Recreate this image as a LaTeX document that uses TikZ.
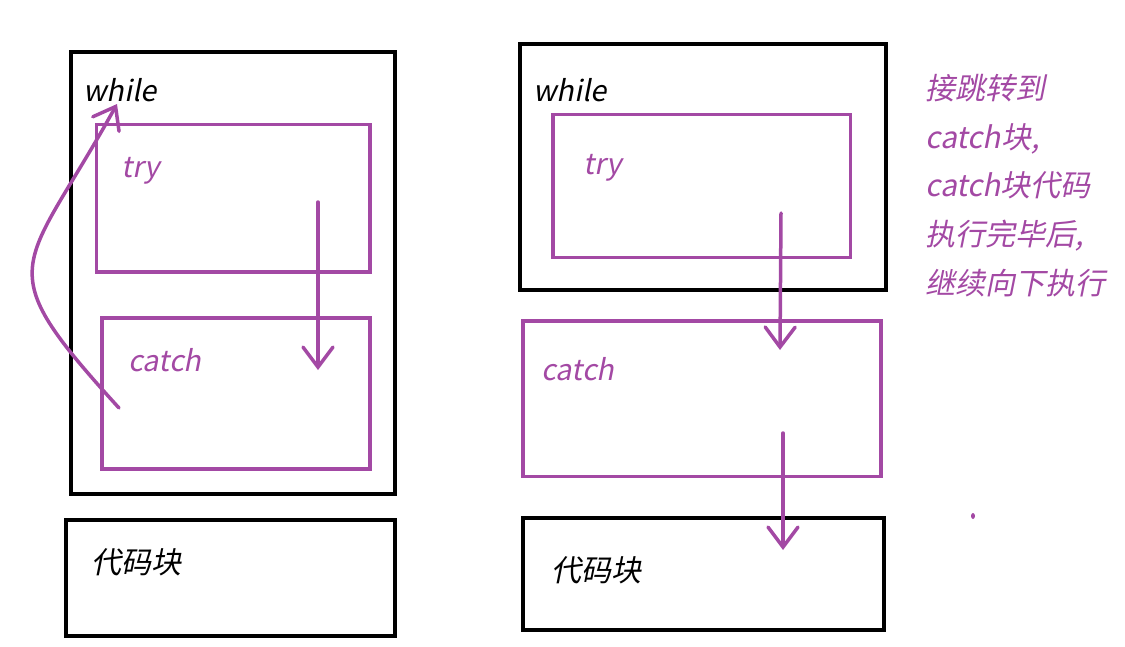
\documentclass[tikz,border=0pt]{standalone}
\usepackage{fontspec}
\setmainfont{Noto Sans CJK SC}[FakeSlant=0.2]
\usepackage{tikz}
\usetikzlibrary{positioning,fit,arrows.meta}

\definecolor{paintpurple}{RGB}{163,73,164}

\tikzset{
  blockbox/.style={draw=black, line width=4pt, inner sep=0pt},
  trybox/.style={draw=paintpurple, line width=3.5pt, inner sep=0pt},
  blocklabel/.style={anchor=base west, inner sep=0pt, font=\fontsize{29}{33}\selectfont},
  codelabel/.style={blocklabel, font=\fontsize{30}{34}\selectfont},
  trylabel/.style={blocklabel, text=paintpurple},
  flow/.style={draw=paintpurple, line width=3.5pt, line cap=round,
               -{Straight Barb[length=20pt, width=30pt, line cap=round]}}
}

\begin{document}
\begin{tikzpicture}[x=1pt, y=-1pt]
\useasboundingbox (0,0) rectangle (1125,646);

% left: the catch jumps back into the loop
\node[blockbox, fit={(70.5,52) (395,494)}] (lwhile) {};
\node[trybox, fit={(96.5,124.5) (370,272)}] (ltry) {};
\node[trybox, fit={(102,318) (370,469)}] (lcatch) {};
\node[blockbox, fit={(66,520) (394.5,635.5)}] (lcode) {};

\node[blocklabel] (lwhilelbl) at (83,101) {while};
\node[trylabel] (ltrylbl) at (121,177) {try};
\node[trylabel] (lcatchlbl) at (128,371) {catch};
\node[codelabel] (lcodelbl) at (91,573) {代码块};

\coordinate (ljumpS) at (318,202);
\coordinate (ljumpE) at (318,370);
\coordinate (lbackS) at (119,408);
\coordinate (lbackE) at (117,104);
\draw[flow] (ljumpS) -- (ljumpE);
\draw[flow] (lbackS) .. controls (-14,262) and (23,274) .. (lbackE);

% right: after catch, go on below the loop
\node[blockbox, fit={(520,44) (885.5,289.5)}] (rwhile) {};
\node[trybox, fit={(553,114.5) (850.5,257.5)}] (rtry) {};
\node[trybox, fit={(523,321) (881,476.5)}] (rcatch) {};
\node[blockbox, fit={(523,517.5) (883.5,630)}] (rcode) {};

\node[blocklabel] (rwhilelbl) at (533,101) {while};
\node[trylabel] (rtrylbl) at (583,174) {try};
\node[trylabel] (rcatchlbl) at (541,380) {catch};
\node[codelabel] (rcodelbl) at (551,581) {代码块};

\coordinate (rjumpS) at (781,213);
\coordinate (rjumpE) at (780,350);
\coordinate (rdownS) at (783,433);
\coordinate (rdownE) at (783,550);
\draw[flow] (rjumpS) -- (rjumpE);
\draw[flow] (rdownS) -- (rdownE);

\node[anchor=north west, inner sep=0pt, align=left, text=paintpurple,
      font=\fontsize{30}{48.75}\selectfont] (note) at (925,74)
{接跳转到\\catch块,\\catch块代码\\执行完毕后,\\继续向下执行};

\fill[paintpurple] (973,516) ellipse (2pt and 3pt);
\end{tikzpicture}
\end{document}
